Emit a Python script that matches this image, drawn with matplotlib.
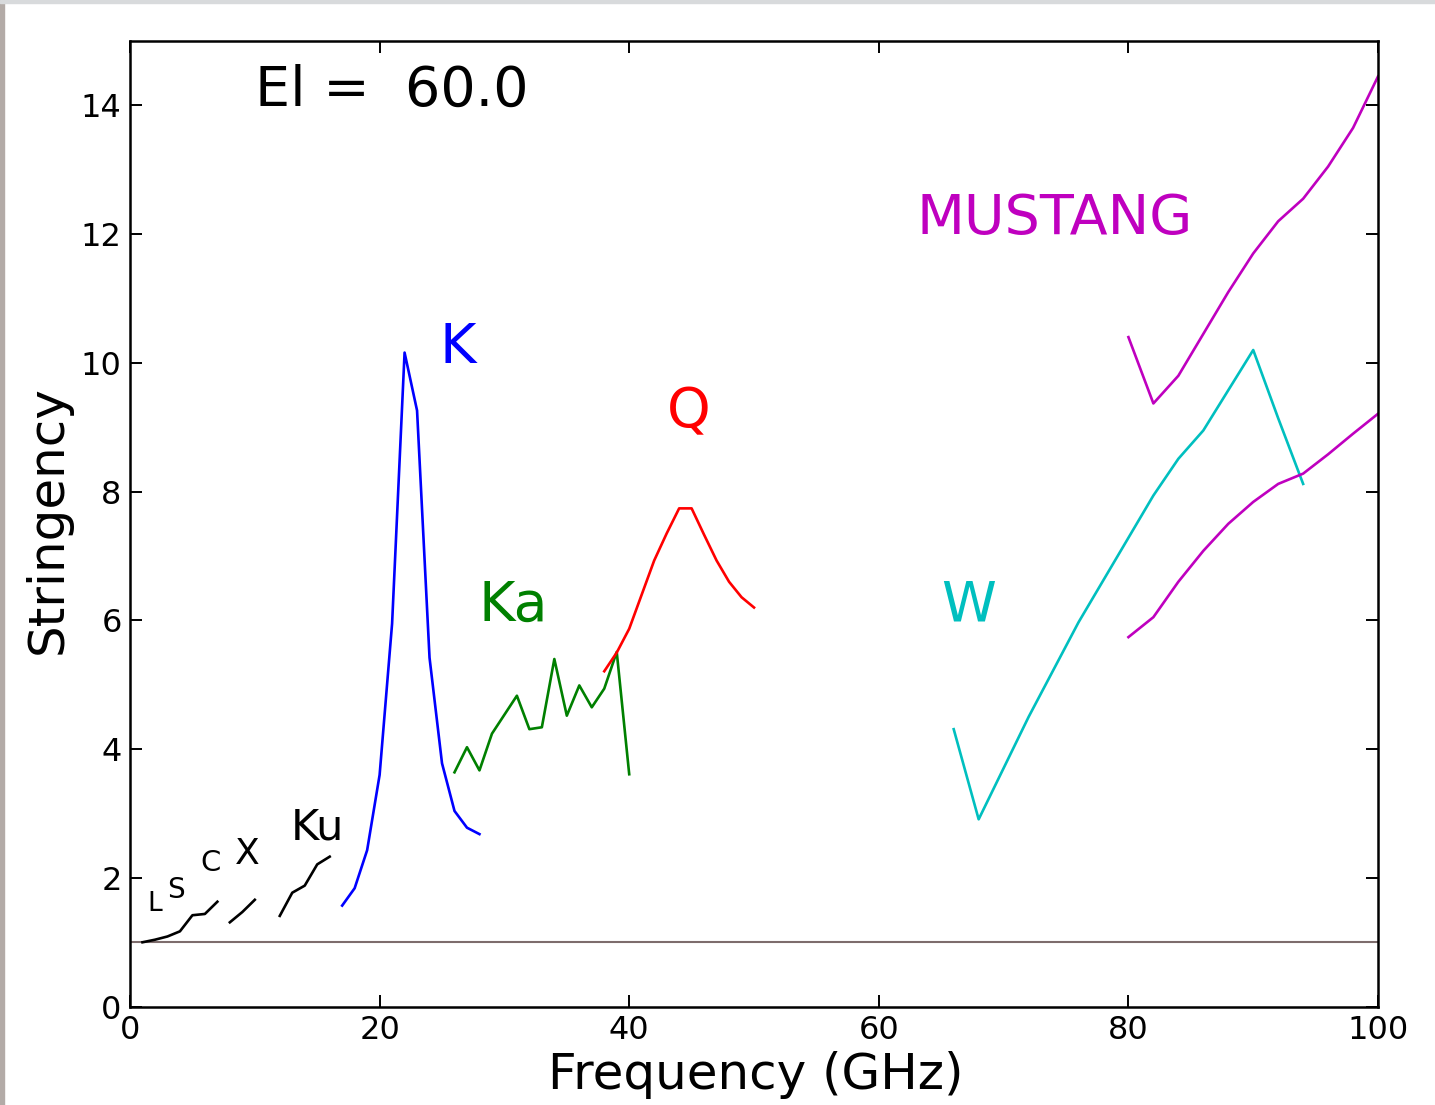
import matplotlib
matplotlib.use("Agg")
import matplotlib.pyplot as plt
from matplotlib.patches import Rectangle

# stringency vs frequency, one curve per receiver band, El = 60 deg
elev = 60.0

f_lsc = [1, 2, 3, 4, 5, 6, 7]
s_lsc = [1.0, 1.04, 1.09, 1.17, 1.42, 1.44, 1.63]

f_x = [8, 9, 10]
s_x = [1.31, 1.47, 1.66]

f_ku = [12, 13, 14, 15, 16]
s_ku = [1.41, 1.77, 1.88, 2.21, 2.33]

f_k = [17, 18, 19, 20, 21, 22, 23, 24, 25, 26, 27, 28]
s_k = [1.57, 1.84, 2.43, 3.6, 5.95, 10.16, 9.26, 5.42, 3.78, 3.04, 2.78, 2.68]

f_ka = [26, 27, 28, 29, 31, 32, 33, 34, 35, 36, 37, 38, 39, 40]
s_ka = [3.64, 4.03, 3.67, 4.24, 4.83, 4.31, 4.34, 5.40, 4.52, 4.99, 4.65, 4.94, 5.51, 3.61]

f_q = [38, 39, 40, 41, 42, 43, 44, 45, 46, 47, 48, 49, 50]
s_q = [5.21, 5.5, 5.87, 6.4, 6.93, 7.35, 7.74, 7.74, 7.33, 6.93, 6.6, 6.36, 6.2]

f_w = [66, 68, 72, 76, 82, 84, 86, 90, 92, 94]
s_w = [4.31, 2.91, 4.5, 5.97, 7.94, 8.51, 8.95, 10.2, 9.14, 8.12]

f_must = [80, 82, 84, 86, 88, 90, 92, 94, 96, 98, 100]
s_must_hi = [10.40, 9.37, 9.8, 10.45, 11.1, 11.7, 12.2, 12.55, 13.05, 13.65, 14.45]
s_must_lo = [5.74, 6.05, 6.6, 7.08, 7.5, 7.84, 8.12, 8.28, 8.58, 8.9, 9.21]

# band names: (text, freq, stringency, size, colour)
labels = [
    ("L", 1.4, 1.49, 19, "k"),
    ("S", 3.0, 1.69, 20, "k"),
    ("C", 5.6, 2.1, 21, "k"),
    ("X", 8.4, 2.21, 26, "k"),
    ("Ku", 12.9, 2.6, 31, "k"),
    ("K", 24.8, 10.0, 40, "b"),
    ("Ka", 27.9, 6.0, 40, "g"),
    ("Q", 43.0, 9.0, 40, "r"),
    ("W", 65.0, 6.0, 40, "c"),
    ("MUSTANG", 63.0, 12.0, 40, "m"),
]

xticks = [0, 20, 40, 60, 80, 100]
yticks = [0, 2, 4, 6, 8, 10, 12, 14]

plt.rcParams["font.family"] = "DejaVu Sans"

fig = plt.figure(figsize=(14.35, 11.05), dpi=100)
ax = fig.add_axes([0.0906, 0.089, 0.8697, 0.8739])

lw = 1.9
ax.axhline(1.0, color="#7d6c6c", lw=1.5)
ax.plot(f_lsc, s_lsc, "k-", lw=lw)
ax.plot(f_x, s_x, "k-", lw=lw)
ax.plot(f_ku, s_ku, "k-", lw=lw)
ax.plot(f_k, s_k, "b-", lw=lw)
ax.plot(f_ka, s_ka, "g-", lw=lw)
ax.plot(f_q, s_q, "r-", lw=lw)
ax.plot(f_w, s_w, "c-", lw=lw)
ax.plot(f_must, s_must_hi, "m-", lw=lw)
ax.plot(f_must, s_must_lo, "m-", lw=lw)

for txt, fx, sy, size, col in labels:
    ax.text(fx, sy, txt, color=col, fontsize=size, ha="left", va="baseline")

ax.text(10, 14, "El = %5.1f" % elev, fontsize=40, ha="left", va="baseline")

ax.set_xlim(0, 100)
ax.set_ylim(0, 15)
ax.set_xticks(xticks)
ax.set_yticks(yticks)
ax.tick_params(direction="in", length=8.5, width=1.4, labelsize=23, pad=6,
               top=True, right=True)
for sp in ax.spines.values():
    sp.set_linewidth(1.8)

ax.set_xlabel("Frequency (GHz)", fontsize=36)
ax.set_ylabel("Stringency", fontsize=36)
ax.xaxis.set_label_coords(0.501, -0.046)
ax.yaxis.set_label_coords(-0.047, 0.504)

# thin grey edge along the left and top of the canvas
fig.patches.append(Rectangle((0, 0), 0.003, 1, transform=fig.transFigure,
                             color="#b3aba7", zorder=0))
fig.patches.append(Rectangle((0, 0.997), 1, 0.003, transform=fig.transFigure,
                             color="#d8dadc", zorder=0))

fig.savefig("out.png", dpi=100)
